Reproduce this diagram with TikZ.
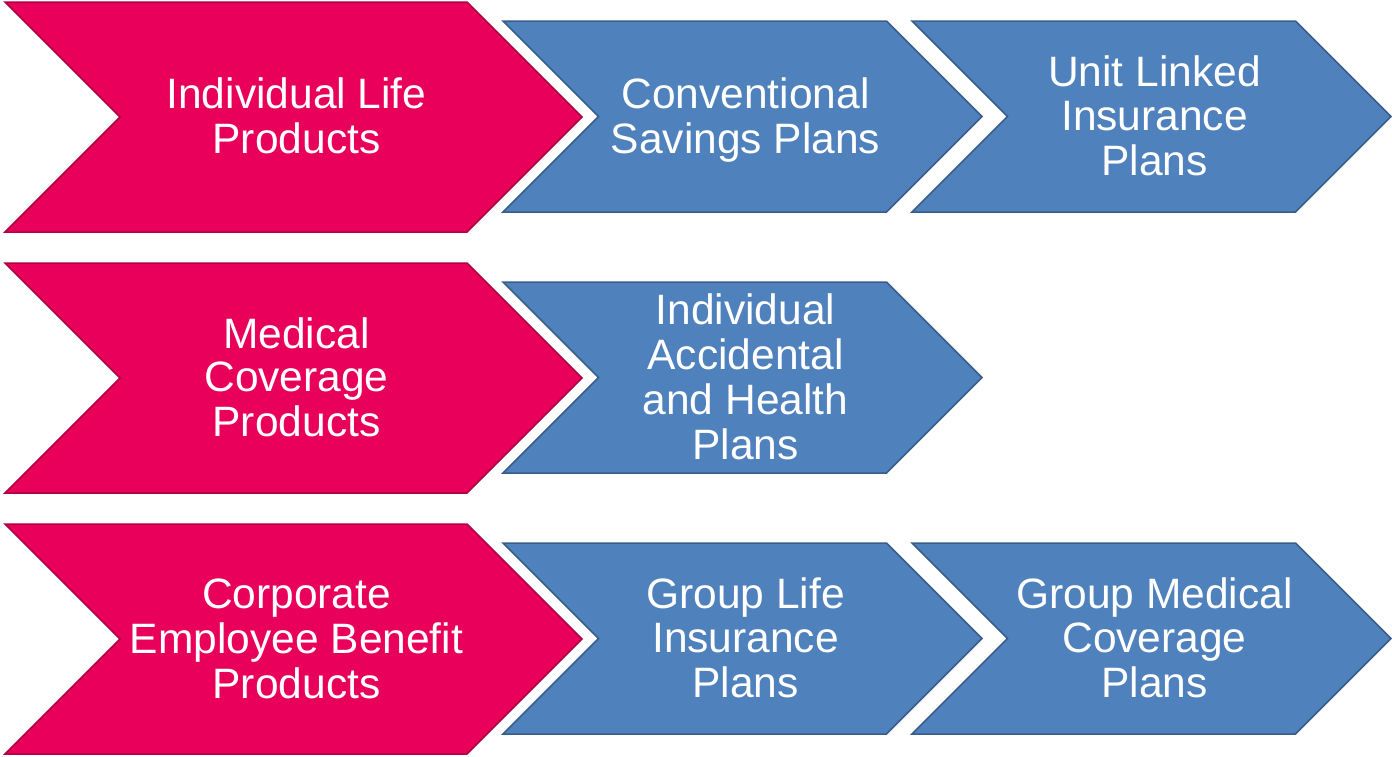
\documentclass[tikz,border=0pt]{standalone}
\usepackage{fontspec}
\setmainfont{Liberation Sans}
\definecolor{pinkfill}{RGB}{232,0,90}
\definecolor{pinkline}{RGB}{176,0,64}
\definecolor{bluefill}{RGB}{79,129,189}
\definecolor{blueline}{RGB}{56,93,138}
\tikzset{
  pinkchev/.style={fill=pinkfill,draw=pinkline,line width=1.5pt,line join=miter},
  bluechev/.style={fill=bluefill,draw=blueline,line width=1.5pt,line join=miter},
  label/.style={text=white,align=center,inner sep=0pt,
    font=\fontsize{42.5}{43.5}\selectfont}
}
% chevron: #1 style, #2 left x, #3 top y, #4 width, #5 height, #6 name, #7 text
% every text line carries a \strut so that descenders do not shift the block
\newcommand{\chevshape}[7]{%
  \pgfmathsetmacro{\cd}{#5/2}%
  \draw[#1] (#2,#3) -- ({#2+#4-\cd},#3) -- ({#2+#4},{#3+\cd})
    -- ({#2+#4-\cd},{#3+#5}) -- (#2,{#3+#5}) -- ({#2+\cd},{#3+\cd}) -- cycle;
  \node[label] (#6) at ({#2+#4/2+3},{#3+\cd+5.5}) {#7};
}
\begin{document}
\begin{tikzpicture}[x=1pt,y=-1pt]
\useasboundingbox (0,0) rectangle (1392,756);
% row 1
\chevshape{pinkchev}{5}{2}{577}{230}{indlife}{\strut Individual Life\\\strut Products}
\chevshape{bluechev}{503}{21}{479}{191}{convsav}{\strut Conventional\\\strut Savings Plans}
\chevshape{bluechev}{912}{21}{479}{191}{ulip}{\strut Unit Linked\\\strut Insurance\\\strut Plans}
% row 2
\chevshape{pinkchev}{5}{263}{577}{230}{medcov}{\strut Medical\\\strut Coverage\\\strut Products}
\chevshape{bluechev}{503}{282}{479}{191}{indacc}{\strut Individual\\\strut Accidental\\\strut and Health\\\strut Plans}
% row 3
\chevshape{pinkchev}{5}{524}{577}{230}{corpemp}{\strut Corporate\\\strut Employee Benefit\\\strut Products}
\chevshape{bluechev}{503}{543}{479}{191}{grplife}{\strut Group Life\\\strut Insurance\\\strut Plans}
\chevshape{bluechev}{912}{543}{479}{191}{grpmed}{\strut Group Medical\\\strut Coverage\\\strut Plans}
\end{tikzpicture}
\end{document}
